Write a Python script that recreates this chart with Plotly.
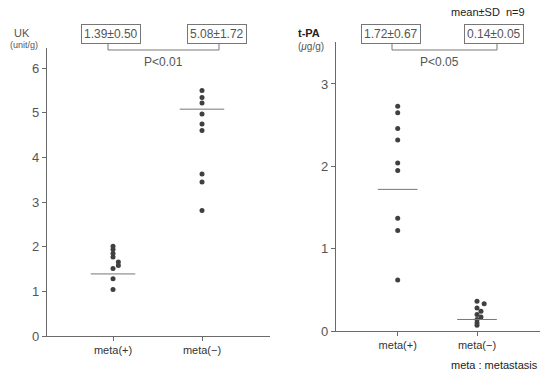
import plotly.graph_objects as go

categories = ["meta(+)", "meta(−)"]

# UK (unit/g)
uk_meta_pos = [2.01, 1.94, 1.85, 1.77, 1.66, 1.58, 1.51, 1.28, 1.04]
uk_meta_pos_dx = [0, 0, 0, 0, 0.06, 0.06, 0, 0, 0]
uk_meta_neg = [5.50, 5.34, 5.22, 4.97, 4.75, 4.60, 3.63, 3.45, 2.81]
uk_means = [1.39, 5.08]
uk_sd = [0.50, 1.72]

# t-PA (ug/g)
tpa_meta_pos = [2.73, 2.65, 2.46, 2.32, 2.04, 1.95, 1.37, 1.22, 0.62]
tpa_meta_neg = [0.36, 0.33, 0.28, 0.24, 0.20, 0.17, 0.14, 0.10, 0.07]
tpa_meta_neg_dx = [0, 0.09, 0, 0.05, 0, 0.05, 0, 0, 0]
tpa_means = [1.72, 0.14]
tpa_sd = [0.67, 0.05]

p_values = ["P<0.01", "P<0.05"]

TXT = "#555555"
AX = "#6a6a6a"
DOT = "#404040"
FONT = "Liberation Sans, Arial, sans-serif"

fig = go.Figure()

def add_dots(xc, vals, dx, xa, ya):
    fig.add_trace(go.Scatter(
        x=[xc + d for d in dx], y=vals, mode="markers",
        marker=dict(color=DOT, size=5), xaxis=xa, yaxis=ya, showlegend=False,
        hoverinfo="y"))

add_dots(1, uk_meta_pos, uk_meta_pos_dx, "x", "y")
add_dots(2, uk_meta_neg, [0] * len(uk_meta_neg), "x", "y")
add_dots(1, tpa_meta_pos, [0] * len(tpa_meta_pos), "x2", "y2")
add_dots(2, tpa_meta_neg, tpa_meta_neg_dx, "x2", "y2")

for i, m in enumerate(uk_means):
    fig.add_trace(go.Scatter(x=[i + 1 - 0.25, i + 1 + 0.25], y=[m, m], mode="lines",
                             line=dict(color="#777777", width=1), xaxis="x", yaxis="y",
                             showlegend=False, hoverinfo="skip"))
for i, m in enumerate(tpa_means):
    fig.add_trace(go.Scatter(x=[i + 1 - 0.25, i + 1 + 0.25], y=[m, m], mode="lines",
                             line=dict(color="#777777", width=1), xaxis="x2", yaxis="y2",
                             showlegend=False, hoverinfo="skip"))

W, H = 551, 379
def px(x):
    return x / W
def py(y):
    return 1 - y / H

axis_common = dict(showgrid=False, zeroline=False, showline=True, linecolor=AX, linewidth=1.2,
                   tickfont=dict(family=FONT, size=13, color=TXT), ticks="outside",
                   ticklen=4, tickcolor=AX, automargin=False)

fig.update_layout(
    width=W, height=H, autosize=False, margin=dict(l=0, r=0, t=0, b=0),
    paper_bgcolor="white", plot_bgcolor="white",
    xaxis=dict(domain=[px(47), px(270)], range=[0.258, 2.764], tickvals=[1, 2],
               ticktext=categories, anchor="y", **axis_common),
    yaxis=dict(domain=[py(336), py(48)], range=[0, 6.45], tickvals=[0, 1, 2, 3, 4, 5, 6],
               anchor="x", **axis_common),
    xaxis2=dict(domain=[px(336), px(540)], range=[0.222, 2.794], tickvals=[1, 2],
                ticktext=categories, anchor="y2", **axis_common),
    yaxis2=dict(domain=[py(331), py(42)], range=[0, 3.51], tickvals=[0, 1, 2, 3],
                anchor="x2", **axis_common),
)
fig.update_xaxes(tickfont=dict(size=11, color="#333"))

ann = []
def text(x, y, s, size=12, color=TXT, xanchor="center", border=None, bold=False):
    a = dict(x=px(x), y=py(y), xref="paper", yref="paper", text=("<b>%s</b>" % s) if bold else s,
             showarrow=False, xanchor=xanchor, yanchor="middle",
             font=dict(family=FONT, size=size, color=color))
    if border:
        a.update(bordercolor=border, borderwidth=1, borderpad=2, bgcolor="white")
    ann.append(a)

# mean ± SD boxes
text(111, 34, "%.2f±%.2f" % (uk_means[0], uk_sd[0]), border="#777")
text(217, 34, "%.2f±%.2f" % (uk_means[1], uk_sd[1]), border="#777")
text(391, 34, "%.2f±%.2f" % (tpa_means[0], tpa_sd[0]), border="#777")
text(494, 34, "%.2f±%.2f" % (tpa_means[1], tpa_sd[1]), border="#777")
text(163, 62, p_values[0])
text(440, 62, p_values[1])
text(488, 12, "mean±SD  n=9", size=11, color="#222")
text(12, 33, "UK", size=11, xanchor="left")
text(8, 45, "(unit/g)", size=9, xanchor="left")
text(296, 33, "t-PA", size=11, color="#222", xanchor="left", bold=True)
text(296, 46, "(<i>μ</i>g/g)", size=10, xanchor="left")
text(540, 365, "meta : metastasis", size=11, color="#222", xanchor="right")
fig.update_layout(annotations=ann)

shapes = []
def bracket(x0, x1, ytop, ybot):
    shapes.append(dict(type="path", xref="paper", yref="paper",
                       path="M %f %f L %f %f L %f %f L %f %f" % (px(x0), py(ytop), px(x0), py(ybot),
                                                               px(x1), py(ybot), px(x1), py(ytop)),
                       line=dict(color="#777", width=1)))
bracket(108, 219, 43, 50)
bracket(392, 497, 43, 50)
fig.update_layout(shapes=shapes)

fig.write_html("out.html", config={"displayModeBar": False, "responsive": False},
               post_script="document.body.style.margin='0';document.body.style.overflow='hidden';")
